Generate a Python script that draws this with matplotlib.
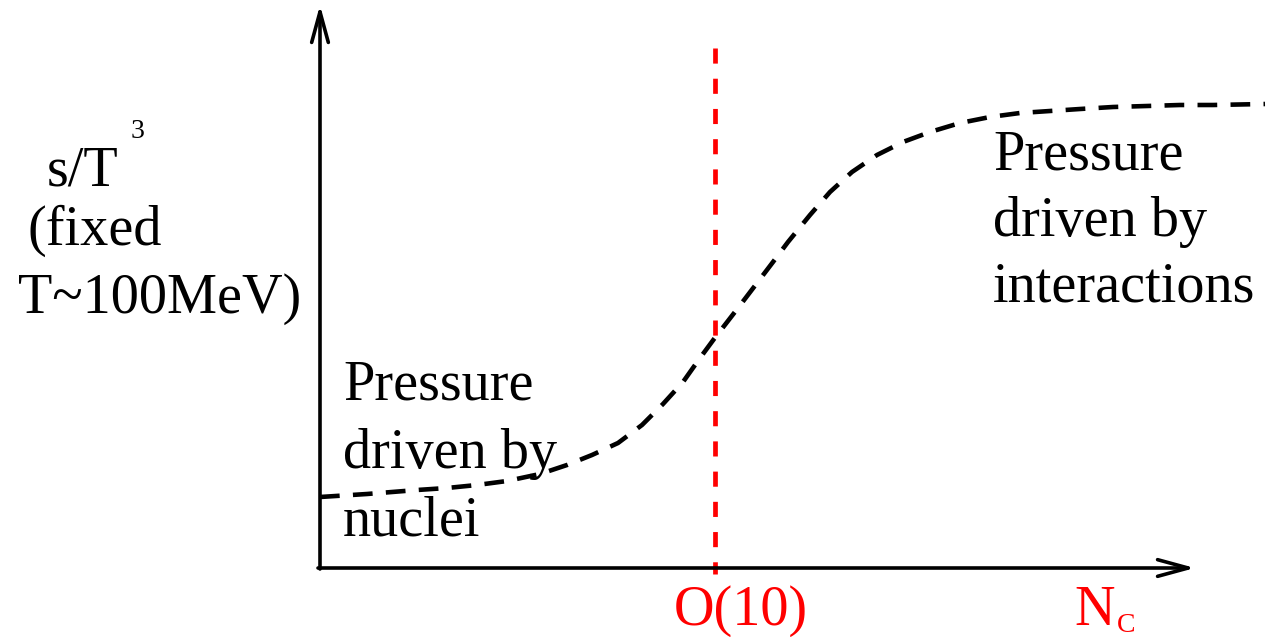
import matplotlib
matplotlib.use("Agg")
import matplotlib.pyplot as plt

# Schematic s/T^3 vs N_c, drawn in a pixel-like frame (y grows downwards)
nc_axis = [320, 367, 417, 447, 477, 507, 540, 567, 592, 618, 642, 663, 683,
           700, 714, 738, 773, 788, 810, 830, 852, 877, 903, 930, 960, 990,
           1020, 1050, 1080, 1113, 1147, 1180, 1213, 1265]
entropy = [497, 494, 490, 488, 485, 481, 474, 465, 455, 443, 425, 404, 382,
           358, 339, 308, 262, 242, 215, 192, 172, 155, 142, 132, 123, 117,
           113, 111, 109, 107, 106, 105, 105, 104]
nc_crossover = 715
left_text = ["Pressure", "driven by", "nuclei"]
right_text = ["Pressure", "driven by", "interactions"]
ylabel_lines = ["(fixed", "T~100MeV)"]

SERIF = ["Liberation Serif", "DejaVu Serif"]
FS = 40.5

fig = plt.figure(figsize=(12.69, 6.37), dpi=100)
ax = fig.add_axes([0, 0, 1, 1])
ax.set_xlim(0, 1269)
ax.set_ylim(637, 0)
ax.axis("off")

# axes with open arrow heads
arrow = dict(arrowstyle="->,head_length=2.2,head_width=0.6", lw=2.6,
             color="black", shrinkA=0, shrinkB=0)
ax.annotate("", xy=(320, 5), xytext=(320, 569), arrowprops=arrow)
ax.annotate("", xy=(1195, 568), xytext=(318, 568), arrowprops=arrow)

ax.plot([nc_crossover, nc_crossover], [48, 574], color="red", lw=3.4,
        dashes=(3.2, 3.2), solid_capstyle="butt")
ax.plot(nc_axis, entropy, color="black", lw=3.3, dashes=(4.3, 2.9),
        solid_capstyle="butt")

for i, line in enumerate(left_text):
    ax.text(343, 400 + 68 * i, line, family=SERIF, fontsize=FS,
            va="baseline", ha="left")
for i, line in enumerate(right_text):
    ax.text(993, 170 + 66 * i, line, family=SERIF, fontsize=FS,
            va="baseline", ha="left")

ax.text(47, 185, "s/T", family=SERIF, fontsize=FS, va="baseline")
ax.text(131, 138, "3", family=SERIF, fontsize=20, va="baseline")
ax.text(28, 245, ylabel_lines[0], family=SERIF, fontsize=FS, va="baseline")
ax.text(18, 313, ylabel_lines[1], family=SERIF, fontsize=FS, va="baseline")

ax.text(741, 625, "O(10)", family=SERIF, fontsize=FS, color="red",
        va="baseline", ha="center")
ax.text(1074, 625, "N", family=SERIF, fontsize=FS, color="red", va="baseline")
ax.text(1117, 632, "C", family=SERIF, fontsize=20, color="red", va="baseline")

fig.savefig("out.png", dpi=100)
